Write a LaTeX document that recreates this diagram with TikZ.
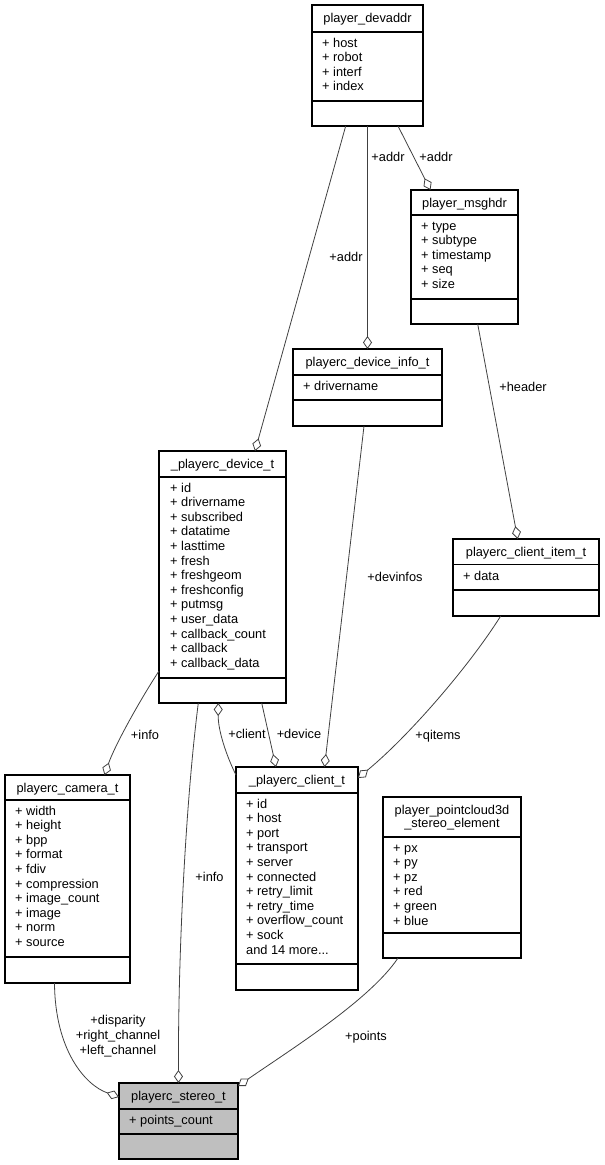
\documentclass[tikz,border=0pt]{standalone}
\usepackage{fontspec}
\setmainfont{Liberation Sans}
\usepackage{tikz}
\usetikzlibrary{arrows.meta}
\definecolor{edgegray}{RGB}{64,64,64}
\definecolor{stereogray}{RGB}{191,191,191}

\begin{document}
\begin{tikzpicture}[x=1pt, y=-1pt,
  every node/.style={font=\fontsize{12.8}{13.4}\selectfont, inner sep=0pt},
  cls/.style={draw=black, line width=1.1pt, anchor=north west, outer sep=0pt},
  divline/.style={draw=black, line width=1.1pt},
  ttl/.style={anchor=base},
  fld/.style={anchor=base west},
  lbl/.style={anchor=base},
  assoc/.style={draw=edgegray, line width=0.8pt, -{Diamond[open, length=13pt, width=9pt]}}]
  \useasboundingbox (0,0) rectangle (605,1165);

  % player_devaddr
  \node[cls, minimum width=111pt, minimum height=121pt] (devaddr) at (312,5) {};
  \draw[divline] (312,32) -- (423,32);
  \draw[divline] (312,101) -- (423,101);
  \node[ttl] (devaddr-t) at (367.5,22) {player\_devaddr};
  \foreach \f [count=\i] in {host, robot, interf, index}
    \node[fld] (devaddr-\i) at (322,{47+(\i-1)*14.6}) {+ \f};

  % player_msghdr
  \node[cls, minimum width=107pt, minimum height=134pt] (msghdr) at (411,190) {};
  \draw[divline] (411,215) -- (518,215);
  \draw[divline] (411,299) -- (518,299);
  \node[ttl] (msghdr-t) at (464.5,207) {player\_msghdr};
  \foreach \f [count=\i] in {type, subtype, timestamp, seq, size}
    \node[fld] (msghdr-\i) at (421,{230+(\i-1)*14.6}) {+ \f};

  % playerc_device_info_t
  \node[cls, minimum width=149pt, minimum height=77pt] (devinfo) at (293,349) {};
  \draw[divline] (293,375) -- (442,375);
  \draw[divline] (293,400) -- (442,400);
  \node[ttl] (devinfo-t) at (367.5,366) {playerc\_device\_info\_t};
  \node[fld] (devinfo-1) at (303,390) {+ drivername};

  % _playerc_device_t
  \node[cls, minimum width=127pt, minimum height=252pt] (device) at (159,451) {};
  \draw[divline] (159,477) -- (286,477);
  \draw[divline] (159,678) -- (286,678);
  \node[ttl] (device-t) at (222.5,468) {\_playerc\_device\_t};
  \foreach \f [count=\i] in {id, drivername, subscribed, datatime, lasttime, fresh,
      freshgeom, freshconfig, putmsg, user\_data, callback\_count, callback, callback\_data}
    \node[fld] (device-\i) at (170,{492+(\i-1)*14.6}) {+ \f};

  % playerc_client_item_t
  \node[cls, minimum width=146pt, minimum height=77pt] (item) at (453,539) {};
  \draw[divline] (453,564.5) -- (599,564.5);
  \draw[divline] (453,590) -- (599,590);
  \node[ttl] (item-t) at (526,556) {playerc\_client\_item\_t};
  \node[fld] (item-1) at (463,580) {+ data};

  % playerc_camera_t
  \node[cls, minimum width=125pt, minimum height=208pt] (camera) at (5,775) {};
  \draw[divline] (5,800) -- (130,800);
  \draw[divline] (5,957) -- (130,957);
  \node[ttl] (camera-t) at (67.5,792) {playerc\_camera\_t};
  \foreach \f [count=\i] in {width, height, bpp, format, fdiv, compression,
      image\_count, image, norm, source}
    \node[fld] (camera-\i) at (15,{815+(\i-1)*14.6}) {+ \f};

  % _playerc_client_t
  \node[cls, minimum width=122pt, minimum height=223pt] (client) at (236,767) {};
  \draw[divline] (236,793) -- (358,793);
  \draw[divline] (236,964) -- (358,964);
  \node[ttl] (client-t) at (297,784) {\_playerc\_client\_t};
  \foreach \f [count=\i] in {id, host, port, transport, server, connected,
      retry\_limit, retry\_time, overflow\_count, sock}
    \node[fld] (client-\i) at (246,{808+(\i-1)*14.6}) {+ \f};
  \node[fld] (client-more) at (246,{808+10*14.6}) {and 14 more...};

  % player_pointcloud3d_stereo_element
  \node[cls, minimum width=138pt, minimum height=161pt] (cloud) at (383,797) {};
  \draw[divline] (383,837) -- (521,837);
  \draw[divline] (383,933) -- (521,933);
  \node[ttl] (cloud-t1) at (452,814) {player\_pointcloud3d};
  \node[ttl] (cloud-t2) at (452,827.4) {\_stereo\_element};
  \foreach \f [count=\i] in {px, py, pz, red, green, blue}
    \node[fld] (cloud-\i) at (393,{852+(\i-1)*14.6}) {+ \f};

  % playerc_stereo_t
  \node[cls, fill=stereogray, minimum width=119pt, minimum height=76pt] (stereo) at (119,1083) {};
  \draw[divline] (119,1109) -- (238,1109);
  \draw[divline] (119,1134) -- (238,1134);
  \node[ttl] (stereo-t) at (178.5,1100) {playerc\_stereo\_t};
  \node[fld] (stereo-1) at (129,1124) {+ points\_count};

  % associations
  \draw[assoc] ([xshift=-21.8pt]devaddr.south) -- ([xshift=32.5pt]device.north);
  \draw[assoc] (devaddr.south) -- (devinfo.north);
  \draw[assoc] ([xshift=30.5pt]devaddr.south) -- ([xshift=-34pt]msghdr.north);
  \draw[assoc] ([xshift=13.2pt]msghdr.south) -- ([xshift=-8.3pt]item.north);
  \draw[assoc] ([xshift=-3.5pt]devinfo.south) -- ([xshift=27.5pt]client.north);
  \draw[assoc] ([xshift=-25.3pt]item.south) .. controls (470,665) and (410,735) .. ([yshift=-11pt]client.north east);
  \draw[assoc] ([xshift=39.2pt]device.south) -- ([xshift=-21pt]client.north);
  \draw[assoc] ([yshift=-8pt]client.north west) .. controls (226,755) and (218,730) .. ([xshift=-4.2pt]device.south);
  \draw[assoc] ([yshift=32pt]device.south west) .. controls (140,700) and (115,745) .. ([xshift=37pt]camera.north);
  \draw[assoc] ([xshift=-24.2pt]device.south) .. controls (186,800) and (178,950) .. (stereo.north);
  \draw[assoc] ([xshift=-13pt]camera.south) .. controls (55,1050) and (85,1085) .. ([yshift=-14pt]stereo.north west);
  \draw[assoc] ([xshift=15pt]cloud.south west) .. controls (370,1000) and (290,1050) .. ([yshift=-3pt]stereo.north east);

  % role labels
  \node[lbl] (l-addr1) at (346,261.5) {+addr};
  \node[lbl] (l-addr2) at (388,161.5) {+addr};
  \node[lbl] (l-addr3) at (436,161.5) {+addr};
  \node[lbl] (l-header) at (523,391.5) {+header};
  \node[lbl] (l-devinfos) at (395,581.5) {+devinfos};
  \node[lbl] (l-qitems) at (438,739.5) {+qitems};
  \node[lbl] (l-device) at (299,738.5) {+device};
  \node[lbl] (l-client) at (247,738.5) {+client};
  \node[lbl] (l-info1) at (145,739.5) {+info};
  \node[lbl] (l-info2) at (209.5,881.5) {+info};
  \foreach \t [count=\i] in {+disparity, +right\_channel, +left\_channel}
    \node[lbl] (l-chan-\i) at (118,{1024.5+(\i-1)*15}) {\t};
  \node[lbl] (l-points) at (366,1040.5) {+points};
\end{tikzpicture}
\end{document}
